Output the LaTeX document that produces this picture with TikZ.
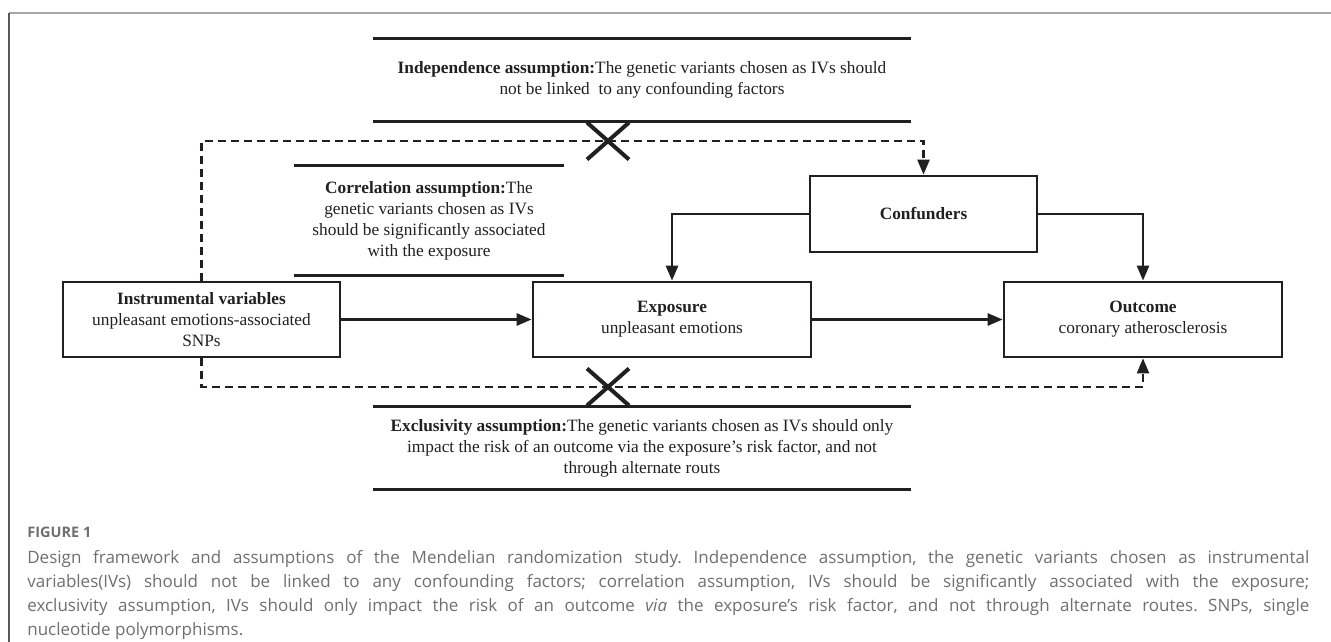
\documentclass[tikz,border=0pt]{standalone}
\usepackage{fontspec}
\setmainfont{Liberation Serif}
\newfontfamily\capfont{Open Sans}
\usetikzlibrary{arrows.meta,shapes.misc}
\definecolor{ink}{HTML}{231F20}
\definecolor{capgray}{HTML}{6F6F6F}

\begin{document}
\begin{tikzpicture}[x=1pt,y=-1pt,line width=2.7pt,color=ink,
    >={Triangle[length=15pt,width=12pt]}]

        \useasboundingbox (0,0) rectangle (1331,642);

        % frame round the figure
        \draw[line width=1.5pt,black!35] (9,13) -- (1331,13);
        \draw[line width=1.5pt,black!65] (9,13) -- (9,642);

        % boxes
        \begin{scope}[every node/.style={rectangle,draw,align=center,
            font=\fontsize{17.3}{21}\selectfont,minimum height=75pt}]
          \node[minimum width=277pt] (iv)   at (201.5,319.5) {\textbf{Instrumental variables}\\unpleasant emotions-associated\\SNPs};
          \node[minimum width=278pt] (exp)  at (672,319.5)   {\textbf{Exposure}\\unpleasant emotions};
          \node[minimum width=278pt] (out)  at (1143,319.5)  {\textbf{Outcome}\\coronary atherosclerosis};
          \node[minimum width=227pt,minimum height=76pt] (conf) at (923.5,214) {\textbf{Confunders}};
        \end{scope}

        % assumptions
        \begin{scope}[every node/.style={align=center,inner sep=0pt,
            font=\fontsize{17.3}{21}\selectfont}]
          \node[minimum width=536pt,minimum height=80pt]  (ind) at (642,80)
            {\textbf{Independence assumption:}The genetic variants chosen as IVs should\\not be linked\ \ to any confounding factors};
          \node[minimum width=268pt,minimum height=107pt] (cor) at (429,220.5)
            {\textbf{Correlation assumption:}The\\genetic variants chosen as IVs\\should be significantly associated\\with the exposure};
          \node[minimum width=536pt,minimum height=80pt]  (exc) at (642,448)
            {\textbf{Exclusivity assumption:}The genetic variants chosen as IVs should only\\impact the risk of an outcome via the exposure's risk factor, and not\\through alternate routs};
        \end{scope}
        \foreach \a in {ind,cor,exc} {
          \draw (\a.north west) -- (\a.north east);
          \draw (\a.south west) -- (\a.south east);
        }

        % arrows
        \draw[->] (iv.east)   -- (exp.west);
        \draw[->] (exp.east)  -- (out.west);
        \draw[->] (conf.west) -| (exp.north);
        \draw[->] (conf.east) -| (out.north);

        % violated paths
        \coordinate (up)   at (204,141);
        \coordinate (down) at (204,387);
        \begin{scope}[dash pattern=on 8pt off 5pt,line width=2.3pt]
          \draw[->] (iv.north) -- (iv.north |- up) -- (conf.north |- up) -- (conf.north);
          \draw[->] (iv.south) -- (iv.south |- down) -- (out.south |- down) -- (out.south);
        \end{scope}
        \begin{scope}[every node/.style={cross out,draw,line width=4pt,inner sep=0pt,
            minimum width=38pt,minimum height=33pt}]
          \node (x1) at (608,141) {};
          \node (x2) at (608,387) {};
        \end{scope}

        % caption
        \node[anchor=base west,inner sep=0pt,text=capgray,
          font=\capfont\bfseries\fontsize{14.5}{17}\selectfont] (fig) at (26,537) {FIGURE 1};
        \node[anchor=base west,inner sep=0pt,text=capgray,
          font=\capfont\frenchspacing\fontsize{17}{24}\selectfont] (cap) at (26,563)
          {\parbox[t]{1282pt}{%
            \makebox[1282pt][s]{Design framework and assumptions of the Mendelian randomization study. Independence assumption, the genetic variants chosen as instrumental}\\
            \makebox[1282pt][s]{variables(IVs) should not be linked to any confounding factors; correlation assumption, IVs should be significantly associated with the exposure;}\\
            \makebox[1282pt][s]{exclusivity assumption, IVs should only impact the risk of an outcome \textit{via} the exposure’s risk factor, and not through alternate routes. SNPs, single}\\
            nucleotide polymorphisms.}};

      \end{tikzpicture}
\end{document}
